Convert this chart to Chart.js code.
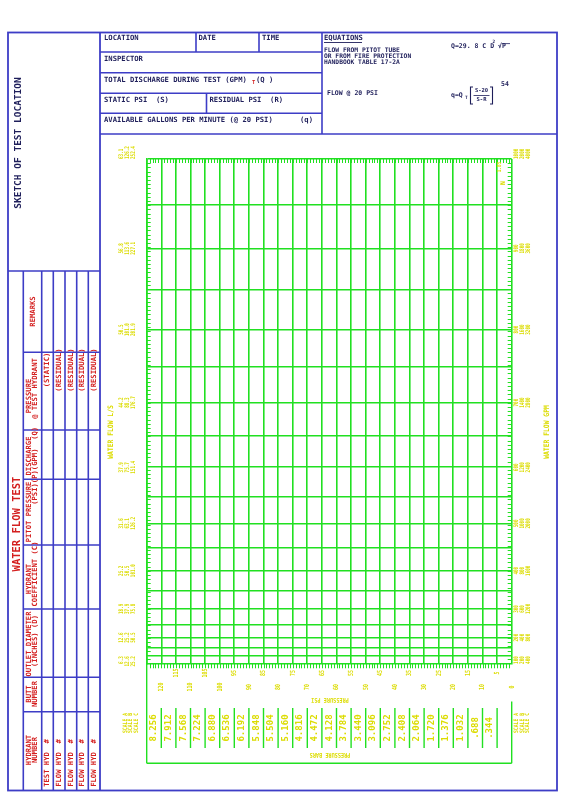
<!DOCTYPE html>
<html>
<head>
<meta charset="utf-8">
<script src="https://cdn.jsdelivr.net/npm/chart.js@4.4.1/dist/chart.umd.min.js"></script>
<style>
  html, body { margin: 0; padding: 0; background: #fff; }
  canvas { display: block; }
</style>
</head>
<body>
<canvas id="hoja" width="565" height="800"></canvas>
<script>
// Presion (psi) - lineas verticales cada 5 psi, 0 a la derecha
const presionRejilla = [0,5,10,15,20,25,30,35,40,45,50,55,60,65,70,75,80,85,90,95,100,105,110,115,120,125];
const etiquetasPsi = [120,115,110,105,100,95,90,85,80,75,70,65,60,55,50,45,40,35,30,25,20,15,10,5,0];
const psiBares = [120,115,110,105,100,95,90,85,80,75,70,65,60,55,50,45,40,35,30,25,20,15,10,5];
const etiquetasBares = ['8.256','7.912','7.568','7.224','6.880','6.536','6.192','5.848','5.504','5.160','4.816','4.472','4.128','3.784','3.440','3.096','2.752','2.408','2.064','1.720','1.376','1.032','.688','.344'];

// Caudal (escala A, GPM) - lineas horizontales en escala N^1.85
const caudalRejilla = [100,150,200,250,300,350,400,450,500,550,600,650,700,750,800,850,900,950,1000];
const caudalEtiq = [100,200,300,400,500,600,700,800,900,1000];
const gpmA = ['100','200','300','400','500','600','700','800','900','1000'];
const gpmB = ['200','400','600','800','1000','1200','1400','1600','1800','2000'];
const gpmC = ['400','800','1200','1600','2000','2400','2800','3200','3600','4000'];
const lpsA = ['6.3','12.6','18.9','25.2','31.6','37.9','44.2','50.5','56.8','63.1'];
const lpsB = ['12.6','25.2','37.9','50.5','63.1','75.7','88.3','101.0','113.6','126.2'];
const lpsC = ['25.2','50.5','75.8','101.0','126.2','151.4','176.7','201.9','227.1','252.4'];

const EXPONENTE = 1.85;
const QMAX = 1000;
const n185 = q => Math.pow(q / QMAX, EXPONENTE);
const DIV_Y = 120; // marcas menores en el eje de caudal (espaciado uniforme)

const AZUL = '#3d3dc6';
const TINTA = '#1e1e5a';
const ROJO = '#d41f1f';
const VERDE = '#21e021';
const AMARILLO = '#dcdc00';
const MONO = '"DejaVu Sans Mono", monospace';
const ARR = -Math.PI / 2; // texto de abajo hacia arriba

function texto(ctx, s, x, y, o) {
    o = o || {};
    ctx.save();
    ctx.translate(x, y);
    if (o.rot) ctx.rotate(o.rot);
    ctx.scale(o.sx || 1, 1);
    ctx.font = (o.peso || 'normal') + ' ' + (o.size || 7) + 'px ' + (o.fam || MONO);
    ctx.fillStyle = o.color || TINTA;
    ctx.textAlign = o.align || 'left';
    ctx.textBaseline = o.base || 'middle';
    ctx.fillText(s, 0, 0);
    ctx.restore();
}

function linea(ctx, x1, y1, x2, y2, color, w) {
    ctx.beginPath();
    ctx.moveTo(x1, y1);
    ctx.lineTo(x2, y2);
    ctx.strokeStyle = color;
    ctx.lineWidth = w || 1.6;
    ctx.stroke();
}

// Formulario (marco azul, cabecera y tabla)
const formulario = {
    id: 'formulario',
    beforeDraw(chart) {
        const ctx = chart.ctx;
        ctx.save();
        ctx.fillStyle = '#fff';
        ctx.fillRect(0, 0, chart.width, chart.height);

        ctx.strokeStyle = AZUL;
        ctx.lineWidth = 1.8;
        ctx.strokeRect(8, 32.5, 549, 758);
        linea(ctx, 100, 32.5, 100, 790.5, AZUL, 1.8);
        linea(ctx, 8, 271, 100, 271, AZUL);

        // tabla izquierda
        [23.3, 41.7, 53.3, 65, 76.7, 88.3].forEach(x => linea(ctx, x, 271, x, 790.5, AZUL));
        [352.3, 430, 479.3, 545, 609, 677.3, 711.7].forEach(y => linea(ctx, 23.3, y, 100, y, AZUL));

        // cabecera
        linea(ctx, 100, 52, 322, 52, AZUL);
        linea(ctx, 100, 72.7, 322, 72.7, AZUL);
        linea(ctx, 100, 93.3, 322, 93.3, AZUL);
        linea(ctx, 100, 113.3, 322, 113.3, AZUL);
        linea(ctx, 100, 134, 557, 134, AZUL);
        linea(ctx, 196, 32.5, 196, 52, AZUL);
        linea(ctx, 259, 32.5, 259, 52, AZUL);
        linea(ctx, 322, 32.5, 322, 134, AZUL);
        linea(ctx, 206.5, 93.3, 206.5, 113.3, AZUL);

        const h = { size: 7.2, base: 'top', peso: 'bold' };
        texto(ctx, 'LOCATION', 104, 35, h);
        texto(ctx, 'DATE', 198.5, 35, h);
        texto(ctx, 'TIME', 262, 35, h);
        texto(ctx, 'INSPECTOR', 104, 56, h);
        texto(ctx, 'TOTAL DISCHARGE DURING TEST (GPM)', 104, 76.5, h);
        texto(ctx, 'T', 252, 80, { size: 5.5, base: 'top', color: ROJO, peso: 'bold' });
        texto(ctx, '(Q )', 256, 76.5, h);
        texto(ctx, 'STATIC PSI  (S)', 104, 97, h);
        texto(ctx, 'RESIDUAL PSI  (R)', 209.5, 97, h);
        texto(ctx, 'AVAILABLE GALLONS PER MINUTE (@ 20 PSI)', 104, 117, h);
        texto(ctx, '(q)', 300, 117, h);

        texto(ctx, 'EQUATIONS', 324, 35, h);
        linea(ctx, 324, 42.5, 362, 42.5, TINTA, 0.9);
        const e = { size: 6.3, base: 'top', peso: 'bold' };
        texto(ctx, 'FLOW FROM PITOT TUBE', 324, 47.5, e);
        texto(ctx, 'OR FROM FIRE PROTECTION', 324, 53.3, e);
        texto(ctx, 'HANDBOOK TABLE 17-2A', 324, 59.1, e);
        texto(ctx, 'Q=29. 8 C D', 451, 43.5, { size: 6.5, base: 'top', peso: 'bold' });
        texto(ctx, '2', 492.5, 39.5, { size: 4.5, base: 'top', peso: 'bold' });
        texto(ctx, '√P', 498, 43.5, { size: 6.5, base: 'top', peso: 'bold' });
        linea(ctx, 502, 43.6, 510, 43.6, TINTA, 0.8);

        texto(ctx, 'FLOW @ 20 PSI', 327, 93, { size: 6.5, peso: 'bold' });
        texto(ctx, 'q=Q', 451, 95, { size: 6.5, peso: 'bold' });
        texto(ctx, 'T', 465, 97.5, { size: 4.5, peso: 'bold' });
        ctx.beginPath();
        ctx.moveTo(473, 87); ctx.lineTo(470.5, 87); ctx.lineTo(470.5, 104); ctx.lineTo(473, 104);
        ctx.moveTo(490, 87); ctx.lineTo(492.5, 87); ctx.lineTo(492.5, 104); ctx.lineTo(490, 104);
        ctx.strokeStyle = TINTA; ctx.lineWidth = 1.1; ctx.stroke();
        texto(ctx, 'S-20', 481.5, 91, { size: 5.5, align: 'center', peso: 'bold' });
        linea(ctx, 473.5, 95.5, 489.5, 95.5, TINTA, 0.8);
        texto(ctx, 'S-R', 481.5, 100, { size: 5.5, align: 'center', peso: 'bold' });
        texto(ctx, '54', 501, 84, { size: 6.5, peso: 'bold' });

        // textos verticales del panel izquierdo
        texto(ctx, 'SKETCH OF TEST LOCATION', 19, 143, { rot: ARR, size: 9.5, align: 'center', peso: 'bold' });
        texto(ctx, 'WATER FLOW TEST', 17.5, 524, { rot: ARR, size: 10.5, align: 'center', color: ROJO, peso: 'bold' });

        const r = { rot: ARR, size: 7.2, align: 'center', color: ROJO, peso: 'bold' };
        const l1 = 29.3, l2 = 35.5;
        texto(ctx, 'REMARKS', 33, 311.5, r);
        texto(ctx, 'PRESSURE', l1, 396, r);
        texto(ctx, '@ TEST HYDRANT', l2, 388.5, r);
        texto(ctx, 'DISCHARGE', l1, 456, r);
        texto(ctx, '(P)(GPM)  (Q)', l2, 455, r);
        texto(ctx, 'PITOT PRESSURE', l1, 512, r);
        texto(ctx, '(PSI)', l2, 494, r);
        texto(ctx, 'HYDRANT', l1, 579, r);
        texto(ctx, 'COEFFICIENT (C)', l2, 574, r);
        texto(ctx, 'OUTLET DIAMETER', l1, 644, r);
        texto(ctx, '(INCHES) (D)', l2, 641, r);
        texto(ctx, 'BUTT', l1, 694, r);
        texto(ctx, 'NUMBER', l2, 694, r);
        texto(ctx, 'HYDRANT', l1, 750, r);
        texto(ctx, 'NUMBER', l2, 750, r);

        const cols = [47.5, 59.2, 70.8, 82.5, 94.2];
        cols.forEach((x, i) => {
            texto(ctx, i === 0 ? '(STATIC)' : '(RESIDUAL)', x, 370, r);
            texto(ctx, (i === 0 ? 'TEST' : 'FLOW') + ' HYD  #', x, 763, r);
        });
        ctx.restore();
    },
    afterDraw(chart) {
        const ctx = chart.ctx;
        const xs = chart.scales.x, ys = chart.scales.y;
        const a = chart.chartArea;
        ctx.save();

        // marcas menores: cada 1 psi y divisiones uniformes en el eje de caudal
        ctx.strokeStyle = VERDE;
        ctx.lineWidth = 1;
        ctx.beginPath();
        for (let p = 1; p < 125; p++) {
            const x = Math.round(xs.getPixelForValue(p)) + 0.5;
            ctx.moveTo(x, a.top); ctx.lineTo(x, a.top + 4);
            ctx.moveTo(x, a.bottom); ctx.lineTo(x, a.bottom + 5);
        }
        for (let k = 1; k < DIV_Y; k++) {
            const y = Math.round(ys.getPixelForValue(k / DIV_Y)) + 0.5;
            ctx.moveTo(a.left, y); ctx.lineTo(a.left + 4, y);
            ctx.moveTo(a.right, y); ctx.lineTo(a.right - 4, y);
        }
        ctx.stroke();

        // etiquetas de caudal (izquierda L/S, derecha GPM)
        const y0 = { rot: ARR, size: 6.3, sx: 0.68, color: AMARILLO, peso: 'bold' };
        caudalEtiq.forEach((q, i) => {
            const y = ys.getPixelForValue(n185(q));
            const al = i === caudalEtiq.length - 1 ? 'left' : (i === 0 ? 'right' : 'center');
            const o = Object.assign({}, y0, { align: al });
            texto(ctx, lpsA[i], 121.7, y, o);
            texto(ctx, lpsB[i], 127.3, y, o);
            texto(ctx, lpsC[i], 132.9, y, o);
            texto(ctx, gpmA[i], 516.7, y, o);
            texto(ctx, gpmB[i], 522.3, y, o);
            texto(ctx, gpmC[i], 527.9, y, o);
        });
        texto(ctx, 'WATER FLOW L/S', 111.5, 432, { rot: ARR, size: 7.5, sx: 0.85, align: 'center', color: AMARILLO, peso: 'bold' });
        texto(ctx, 'WATER FLOW GPM', 547, 432, { rot: ARR, size: 7.5, sx: 0.85, align: 'center', color: AMARILLO, peso: 'bold' });

        // N^1.85
        texto(ctx, 'N', 503, 183, { rot: ARR, size: 6.5, color: AMARILLO, align: 'center', peso: 'bold' });
        texto(ctx, '1.85', 499.5, 167, { rot: ARR, size: 5.5, sx: 0.8, color: AMARILLO, align: 'center', peso: 'bold' });

        // etiquetas de presion psi (dos filas alternadas)
        etiquetasPsi.forEach(p => {
            const x = xs.getPixelForValue(p);
            const y = p % 10 === 0 ? 687 : 673;
            texto(ctx, String(p), x, y, { rot: ARR, size: 7, sx: 0.7, color: AMARILLO, align: 'center', peso: 'bold' });
        });
        texto(ctx, 'PRESSURE PSI', 330, 700, { rot: Math.PI, size: 6.5, sx: 0.8, color: AMARILLO, align: 'center', peso: 'bold' });

        // recuadro de presion en bares
        const bIzq = a.left, bDer = a.right, bInf = 763.3;
        linea(ctx, bIzq, a.bottom, bIzq, bInf, VERDE, 1.4);
        linea(ctx, bDer, 701.5, bDer, bInf, VERDE, 1.4);
        linea(ctx, bIzq, bInf, bDer, bInf, VERDE, 1.4);
        psiBares.forEach((p, i) => {
            const x = xs.getPixelForValue(p);
            linea(ctx, x, 708, x, 748, VERDE, 1.4);
            const xc = xs.getPixelForValue(p + 2.5);
            texto(ctx, etiquetasBares[i], xc, 728, { rot: ARR, size: 9.5, sx: 0.95, color: AMARILLO, align: 'center', peso: 'bold' });
        });
        texto(ctx, 'PRESSURE BARS', 330, 755, { rot: Math.PI, size: 6.5, sx: 0.8, color: AMARILLO, align: 'center', peso: 'bold' });

        ['SCALE A', 'SCALE B', 'SCALE C'].forEach((s, i) => {
            texto(ctx, s, 125.5 + i * 5.4, 723, { rot: ARR, size: 6, sx: 0.8, color: AMARILLO, align: 'center', peso: 'bold' });
            texto(ctx, s, 516.7 + i * 5.4, 723, { rot: ARR, size: 6, sx: 0.8, color: AMARILLO, align: 'center', peso: 'bold' });
        });
        ctx.restore();
    }
};

const rejilla = { color: VERDE, lineWidth: 1.6, drawTicks: false };

new Chart(document.getElementById('hoja'), {
    type: 'scatter',
    data: { datasets: [{ data: [], showLine: false }] },
    options: {
        responsive: false,
        animation: false,
        devicePixelRatio: 1,
        layout: { padding: { left: 146.7, right: 53.3, top: 159, bottom: 136.7 } },
        plugins: { legend: { display: false }, tooltip: { enabled: false } },
        scales: {
            x: {
                type: 'linear', min: 0, max: 125, reverse: true,
                afterBuildTicks: s => { s.ticks = presionRejilla.map(v => ({ value: v })); },
                ticks: { display: false, padding: 0 },
                grid: rejilla,
                border: { color: VERDE, width: 1.6 }
            },
            y: {
                type: 'linear', min: 0, max: 1,
                afterBuildTicks: s => { s.ticks = caudalRejilla.map(q => ({ value: n185(q) })); },
                ticks: { display: false, padding: 0 },
                grid: rejilla,
                border: { color: VERDE, width: 1.6 }
            }
        }
    },
    plugins: [formulario]
});
</script>
</body>
</html>
